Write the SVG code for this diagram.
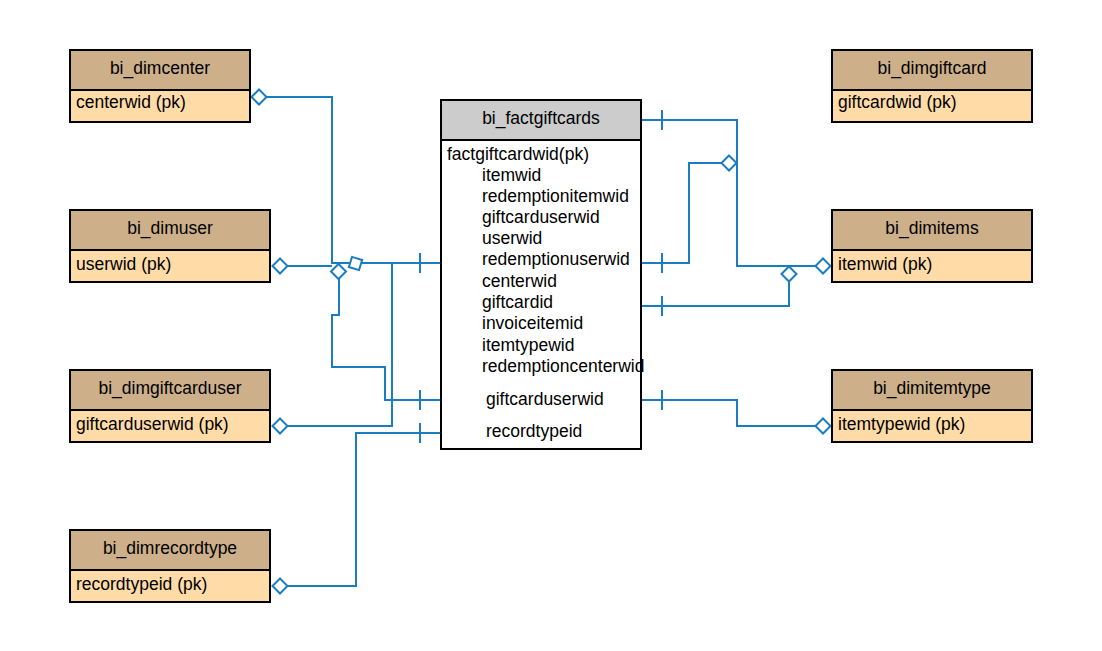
<svg xmlns="http://www.w3.org/2000/svg" width="1102" height="651" viewBox="0 0 1102 651">
<style>
.hd{fill:#CDB08A;stroke:#000;stroke-width:2}
.bd{fill:#FFDBA8;stroke:#000;stroke-width:2}
.fh{fill:#CCCCCC;stroke:#000;stroke-width:2}
.fb{fill:#FFFFFF;stroke:#000;stroke-width:2}
text{font-family:"Liberation Sans",Arial,sans-serif;font-size:17.5px;fill:#000}
.c{text-anchor:middle}
.ln{fill:none;stroke:#1A7DC0;stroke-width:2}
.dm{fill:#FFFFFF;stroke:#1A7DC0;stroke-width:2}
</style>
<rect width="1102" height="651" fill="#FFFFFF"/>
<g id="connectors">
<path class="ln" d="M266.5,97 H332 V263 H441"/>
<path class="ln" d="M287.5,266 H332"/>
<path class="ln" d="M287.5,426 H392 V263"/>
<path class="ln" d="M441,400 H385 V367 H332 V315 H339 V279"/>
<path class="ln" d="M287.5,586 H356 V433 H441"/>
<path class="ln" d="M641,120 H737 V266 H815.5"/>
<path class="ln" d="M641,263 H689 V163 H721.5"/>
<path class="ln" d="M641,306 H789 V281.5"/>
<path class="ln" d="M641,400 H737 V426 H815.5"/>
<path class="ln" d="M420,253 V273 M420,390 V410 M420,423 V443 M662,110 V130 M662,253 V273 M662,296 V316 M662,390 V410"/>
<polygon class="dm" points="251.5,97 259,89.5 266.5,97 259,104.5"/>
<polygon class="dm" points="272.5,266 280,258.5 287.5,266 280,273.5"/>
<polygon class="dm" points="272.5,426 280,418.5 287.5,426 280,433.5"/>
<polygon class="dm" points="272.5,586 280,578.5 287.5,586 280,593.5"/>
<polygon class="dm" points="331,271.5 338.5,264 346,271.5 338.5,279"/>
<polygon class="dm" points="-7.5,0 0,-7.5 7.5,0 0,7.5" transform="translate(355.5,263.5) rotate(-28)"/>
<polygon class="dm" points="815.5,266 823,258.5 830.5,266 823,273.5"/>
<polygon class="dm" points="815.5,426 823,418.5 830.5,426 823,433.5"/>
<polygon class="dm" points="721.5,163 729,155.5 736.5,163 729,170.5"/>
<polygon class="dm" points="781.5,274 789,266.5 796.5,274 789,281.5"/>
</g>
<g id="bi_dimcenter">
<rect class="hd" x="70" y="50" width="180" height="40"/>
<rect class="bd" x="70" y="90" width="180" height="32"/>
<text class="c" x="160" y="74">bi_dimcenter</text>
<text x="76" y="108">centerwid (pk)</text>
</g>
<g id="bi_dimuser">
<rect class="hd" x="70" y="210" width="200" height="40"/>
<rect class="bd" x="70" y="250" width="200" height="32"/>
<text class="c" x="170" y="234">bi_dimuser</text>
<text x="76" y="270">userwid (pk)</text>
</g>
<g id="bi_dimgiftcarduser">
<rect class="hd" x="70" y="370" width="200" height="40"/>
<rect class="bd" x="70" y="410" width="200" height="32"/>
<text class="c" x="170" y="394">bi_dimgiftcarduser</text>
<text x="76" y="430">giftcarduserwid (pk)</text>
</g>
<g id="bi_dimrecordtype">
<rect class="hd" x="70" y="530" width="200" height="40"/>
<rect class="bd" x="70" y="570" width="200" height="32"/>
<text class="c" x="170" y="554">bi_dimrecordtype</text>
<text x="76" y="590">recordtypeid (pk)</text>
</g>
<g id="bi_dimgiftcard">
<rect class="hd" x="832" y="50" width="200" height="40"/>
<rect class="bd" x="832" y="90" width="200" height="32"/>
<text class="c" x="932" y="74">bi_dimgiftcard</text>
<text x="838" y="108">giftcardwid (pk)</text>
</g>
<g id="bi_dimitems">
<rect class="hd" x="832" y="210" width="200" height="40"/>
<rect class="bd" x="832" y="250" width="200" height="32"/>
<text class="c" x="932" y="234">bi_dimitems</text>
<text x="838" y="270">itemwid (pk)</text>
</g>
<g id="bi_dimitemtype">
<rect class="hd" x="832" y="370" width="200" height="40"/>
<rect class="bd" x="832" y="410" width="200" height="32"/>
<text class="c" x="932" y="394">bi_dimitemtype</text>
<text x="838" y="430">itemtypewid (pk)</text>
</g>
<g id="bi_factgiftcards">
<rect class="fh" x="441" y="100" width="200" height="40"/>
<rect class="fb" x="441" y="140" width="200" height="309"/>
<text class="c" x="541" y="124">bi_factgiftcards</text>
<text x="447" y="160">factgiftcardwid(pk)</text>
<text x="482" y="181">itemwid</text>
<text x="482" y="202">redemptionitemwid</text>
<text x="482" y="223">giftcarduserwid</text>
<text x="482" y="244">userwid</text>
<text x="482" y="265">redemptionuserwid</text>
<text x="482" y="287">centerwid</text>
<text x="482" y="308">giftcardid</text>
<text x="482" y="329">invoiceitemid</text>
<text x="482" y="351">itemtypewid</text>
<text x="482" y="372">redemptioncenterwid</text>
<text x="486" y="405">giftcarduserwid</text>
<text x="486" y="437">recordtypeid</text>
</g>
</svg>
